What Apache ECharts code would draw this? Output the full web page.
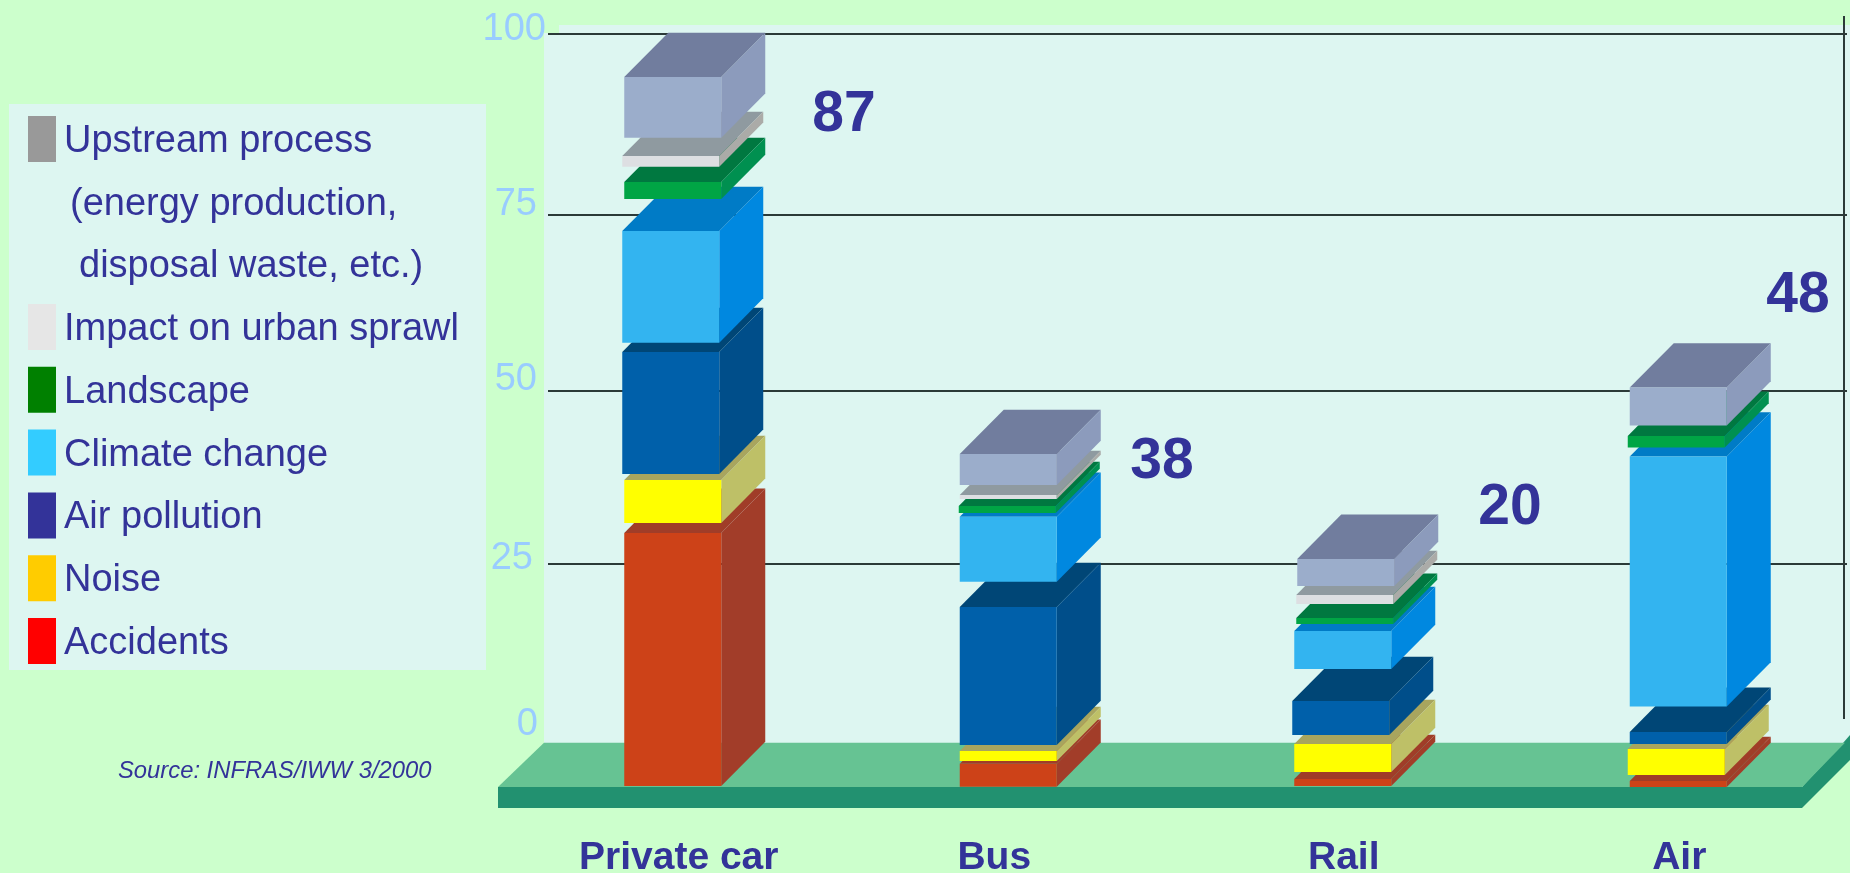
<!DOCTYPE html>
<html>
<head>
<meta charset="utf-8">
<style>html,body{margin:0;padding:0;background:#CCFFCC}#c{width:1850px;height:873px}</style>
<script src="https://cdn.jsdelivr.net/npm/echarts@6/dist/echarts.min.js"></script>
</head>
<body>
<div id="c"></div>
<script>
// ---- data ----
const categories = ['Private car', 'Bus', 'Rail', 'Air'];
const totals = [87, 38, 20, 48];
const accidents = [35.7, 3.24, 0.99, 0.85];
const noise = [6.06, 1.41, 3.95, 3.67];
const airPollution = [17.2, 19.46, 4.8, 1.69];
const climateChange = [15.75, 9.17, 5.36, 35.26];
const landscape = [2.4, 0.99, 0.85, 1.65];
const urbanSprawl = [1.51, 0.56, 1.27, 0];
const upstream = [8.56, 4.37, 3.81, 5.36];
// the segments are drawn pulled apart: clear space under each segment, in axis units
const accidentsGap = [0.14, 0.04, 0.14, 0];
const noiseGap = [1.41, 0.38, 0.99, 0.85];
const airPollutionGap = [0.85, 0.85, 1.27, 0.71];
const climateChangeGap = [1.31, 3.57, 4.51, 3.57];
const landscapeGap = [4.51, 0.52, 0.99, 1.27];
const urbanSprawlGap = [2.16, 0.99, 1.97, 0];
const upstreamGap = [2.58, 1.41, 1.27, 1.45];
const gridLineValues = [25.3, 49.6, 74.4, 100];
const tickLabelAnchors = [2.58, 25.91, 51.2, 75.92, 100.66];
const legendLines = ['(energy production,', 'disposal waste, etc.)'];
const sourceText = 'Source: INFRAS/IWW 3/2000';

// ---- styles and layout ----
const FONT = '"Liberation Sans", Arial, sans-serif';
const INK = '#333399';
const DEPTH_X = 44, DEPTH_Y = 44.3, BAR_W = 97;
const seriesDefs = [
  {name: 'Accidents', v: accidents, g: accidentsGap, front: '#CD4218', top: '#A03D28', side: '#A23D29', swatch: '#FF0000', nudge: [0, 0, -1, -1]},
  {name: 'Noise', v: noise, g: noiseGap, front: '#FFFF00', top: '#A8A55E', side: '#BEC067', swatch: '#FFCC00', nudge: [0, 0, -1, -3]},
  {name: 'Air pollution', v: airPollution, g: airPollutionGap, front: '#0060AA', top: '#004676', side: '#004E8A', swatch: '#333399', nudge: [-2, 0, -3, -1]},
  {name: 'Climate change', v: climateChange, g: climateChangeGap, front: '#33B4F0', top: '#007BC6', side: '#0088E0', swatch: '#33CCFF', nudge: [-2, 0, -1, -1]},
  {name: 'Landscape', v: landscape, g: landscapeGap, front: '#00A545', top: '#007840', side: '#009050', swatch: '#008000', nudge: [0, -1, 1, -3]},
  {name: 'Impact on urban sprawl', v: urbanSprawl, g: urbanSprawlGap, front: '#DDDFE2', top: '#8F9AA0', side: '#ABABA8', swatch: '#E6E6E6', nudge: [-2, 0, 1, 0]},
  {name: 'Upstream process', v: upstream, g: upstreamGap, front: '#9BADCB', top: '#717D9E', side: '#8C9BBC', swatch: '#999999', nudge: [0, 0, 2, -1]}
];

let running = categories.map(() => 0);
const customSeries = seriesDefs.map(def => {
  const data = categories.map((c, i) => {
    const lo = running[i] + def.g[i];
    const hi = lo + def.v[i];
    running[i] = hi;
    return [i, lo, hi];
  }).filter(d => d[2] > d[1]);
  return {
    type: 'custom', name: def.name, xAxisIndex: 0, yAxisIndex: 0, clip: false, z: 3,
    silent: true, encode: {x: 0, y: [1, 2]}, data,
    itemStyle: {color: def.front},
    renderItem(params, api) {
      const cat = api.value(0);
      const pLo = api.coord([cat, api.value(1)]);
      const pHi = api.coord([cat, api.value(2)]);
      const x0 = pLo[0] - BAR_W / 2 + def.nudge[cat], x1 = x0 + BAR_W;
      const yB = pLo[1] + DEPTH_Y, yT = pHi[1] + DEPTH_Y;
      return {type: 'group', children: [
        {type: 'polygon', shape: {points: [[x0, yT], [x1, yT], [x1 + DEPTH_X, yT - DEPTH_Y], [x0 + DEPTH_X, yT - DEPTH_Y]]}, style: {fill: def.top}},
        {type: 'polygon', shape: {points: [[x1, yT], [x1 + DEPTH_X, yT - DEPTH_Y], [x1 + DEPTH_X, yB - DEPTH_Y], [x1, yB]]}, style: {fill: def.side}},
        {type: 'rect', shape: {x: x0, y: yT, width: BAR_W, height: yB - yT}, style: {fill: def.front}}
      ]};
    }
  };
});

const text = (t, x, y, font, fill, align) => ({type: 'text', z: 10, x, y, style: {text: t, x: 0, y: 0, font, fill, align: align || 'left', verticalAlign: 'middle'}});
const poly = (pts, fill) => ({type: 'polygon', z: -1, shape: {points: pts}, style: {fill}});
const box = (x, y, w, h, fill) => ({type: 'rect', z: -2, shape: {x, y, width: w, height: h}, style: {fill}});
const PANEL = '#DDF6F1';
const valueLabelPos = [[844, 115], [1162, 462], [1510, 508], [1798, 296]];
const legendText = {
  fontFamily: FONT, fontSize: 38, color: INK,
  rich: {a: {fontFamily: FONT, fontSize: 38, color: INK, padding: [5, 0, 0, 3]}}
};

const option = {
  animation: false,
  backgroundColor: '#CCFFCC',
  grid: [
    {left: 505, right: 3, top: 12.43, height: 730.27, outerBoundsMode: 'none'},
    {left: 548, right: 3, top: 12.43, height: 730.27, outerBoundsMode: 'none'}
  ],
  xAxis: [
    {gridIndex: 0, type: 'category', data: categories, axisLine: {show: false}, axisTick: {show: false},
     axisLabel: {margin: 96, fontFamily: FONT, fontSize: 39, fontWeight: 'bold', color: INK, interval: 0,
       formatter: (v, i) => '{c' + i + '|' + v + '}',
       rich: {
         c0: {fontFamily: FONT, fontSize: 39, fontWeight: 'bold', color: INK, padding: [0, 0, 0, 12]},
         c1: {fontFamily: FONT, fontSize: 39, fontWeight: 'bold', color: INK, padding: [0, 28, 0, 0]},
         c2: {fontFamily: FONT, fontSize: 39, fontWeight: 'bold', color: INK},
         c3: {fontFamily: FONT, fontSize: 39, fontWeight: 'bold', color: INK}
       }}},
    {gridIndex: 1, type: 'value', min: 0, max: 1, show: false}
  ],
  yAxis: [
    {gridIndex: 0, type: 'value', min: 0, max: 103, show: false},
    {gridIndex: 1, type: 'value', min: 0, max: 103, axisLine: {show: false},
     axisTick: {show: false, customValues: gridLineValues},
     splitLine: {show: true, lineStyle: {color: '#2B3A38', width: 2}},
     axisLabel: {customValues: tickLabelAnchors, margin: 2, color: '#99CCFF', fontFamily: FONT, fontSize: 38,
       formatter: v => { const n = Math.round(v / 25) * 25; return '{t' + n + '|' + n + '}'; },
       rich: {
         t0: {fontFamily: FONT, fontSize: 38, color: '#99CCFF', padding: [0, 8, 0, 0]},
         t25: {fontFamily: FONT, fontSize: 38, color: '#99CCFF', padding: [0, 13, 0, 0]},
         t50: {fontFamily: FONT, fontSize: 38, color: '#99CCFF', padding: [0, 9, 0, 0]},
         t75: {fontFamily: FONT, fontSize: 38, color: '#99CCFF', padding: [0, 9, 0, 0]},
         t100: {fontFamily: FONT, fontSize: 38, color: '#99CCFF'}
       }}}
  ],
  legend: [
    {left: 28, top: 116, orient: 'vertical', itemWidth: 28, itemHeight: 46, selectedMode: false,
     padding: 0, textStyle: legendText, formatter: '{a|{name}}',
     data: [seriesDefs[6]].map(d => ({name: d.name, icon: 'rect', itemStyle: {color: d.swatch}}))},
    {left: 28, top: 304, orient: 'vertical', itemWidth: 28, itemHeight: 46, itemGap: 16.8, selectedMode: false,
     padding: 0, textStyle: legendText, formatter: '{a|{name}}',
     data: seriesDefs.slice(0, 6).reverse().map(d => ({name: d.name, icon: 'rect', itemStyle: {color: d.swatch}}))}
  ],
  graphic: {elements: [
    box(9, 104, 477, 566, PANEL),
    box(544, 33, 1306, 710, PANEL),
    box(559, 25, 1291, 8, PANEL),
    poly([[1802, 787], [1843, 743], [1850, 735], [1850, 760], [1802, 808]], '#229170'),
    poly([[498, 787], [544, 742.7], [1845, 742.7], [1802, 787]], '#66C393'),
    {type: 'rect', z: -1, shape: {x: 498, y: 787, width: 1304, height: 21}, style: {fill: '#229170'}},
    {type: 'line', z: 1, shape: {x1: 1844, y1: 16, x2: 1844, y2: 719}, style: {stroke: '#2B3A38', lineWidth: 2}},
    text(legendLines[0], 70, 205, '38px ' + FONT, INK),
    text(legendLines[1], 79, 267, '38px ' + FONT, INK),
    text(sourceText, 118, 771, 'italic 23.8px ' + FONT, INK)
  ].concat(totals.map((t, i) => text(String(t), valueLabelPos[i][0], valueLabelPos[i][1], 'bold 57px ' + FONT, INK, 'center')))},
  series: customSeries
};
echarts.init(document.getElementById('c'), null, {renderer: 'canvas'}).setOption(option);
</script>
</body>
</html>
